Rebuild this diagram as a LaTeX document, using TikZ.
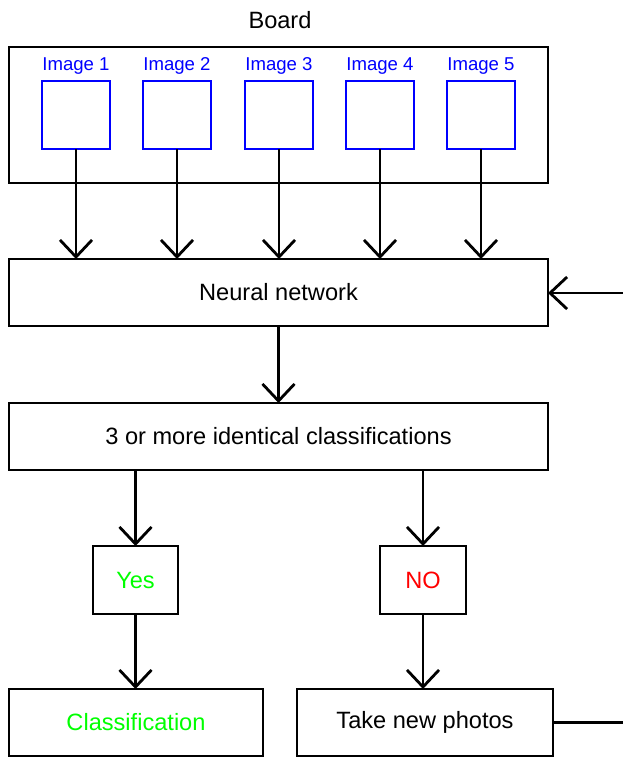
\documentclass[tikz,border=0pt]{standalone}
\usepackage{fontspec}
\setmainfont{Liberation Sans}
\usetikzlibrary{arrows.meta}
\definecolor{imgblue}{RGB}{0,0,255}
\definecolor{yesgreen}{RGB}{0,255,0}
\definecolor{nored}{RGB}{255,0,0}
\tikzset{
  box/.style={draw=black, line width=2.8pt, rectangle, inner sep=0pt, outer sep=0pt, font=\fontsize{23.6}{28}\selectfont},
  imgbox/.style={draw=imgblue, line width=2.8pt, rectangle, inner sep=0pt, outer sep=0pt, minimum width=68pt, minimum height=68pt},
  imglabel/.style={text=imgblue, inner sep=0pt, font=\fontsize{18.6}{22}\selectfont},
  arr/.style={line width=2.8pt, -{Straight Barb[length=17pt,width=32pt]}},
  plain/.style={line width=2.8pt}
}
\begin{document}
\begin{tikzpicture}[x=1pt,y=-1pt]
\useasboundingbox (0,0) rectangle (623,758);
\node[inner sep=0pt, font=\fontsize{23.6}{28}\selectfont] (title) at (280,20) {Board};
\node[box, minimum width=539pt, minimum height=136pt] (board) at (278.5,115) {};
\foreach \i/\x in {1/76,2/177,3/279,4/380,5/481}{
  \node[imgbox] (img\i) at (\x,115) {};
  \node[imglabel] (lab\i) at (\x,66) {Image \i};
}
\node[box, minimum width=539pt, minimum height=67pt] (nn) at (278.5,292.5) {Neural network};
\node[box, minimum width=539pt, minimum height=67pt] (cls3) at (278.5,436.5) {3 or more identical classifications};
\node[box, minimum width=85pt, minimum height=68pt, text=yesgreen] (yes) at (135.5,580) {Yes};
\node[box, minimum width=86pt, minimum height=68pt, text=nored] (no) at (423,580) {NO};
\node[box, minimum width=254pt, minimum height=67pt, text=yesgreen] (classif) at (136,722.5) {Classification};
\node[box, minimum width=256pt, minimum height=67pt] (take) at (425,722.5) {Take new photos};
\coordinate (fbin) at (623,293);
\coordinate (fbout) at (623,722.5);
\foreach \i in {1,...,5}{
  \draw[arr] (img\i.south) -- (img\i.south |- nn.north);
}
\draw[arr] (fbin) -- (nn.east |- fbin);
\draw[arr] (nn.south -| cls3.north) -- (cls3.north);
\draw[arr] (yes.north |- cls3.south) -- (yes.north);
\draw[arr] (no.north |- cls3.south) -- (no.north);
\draw[arr] (yes.south) -- (yes.south |- classif.north);
\draw[arr] (no.south) -- (no.south |- take.north);
\draw[plain] (take.east) -- (fbout);
\end{tikzpicture}
\end{document}
